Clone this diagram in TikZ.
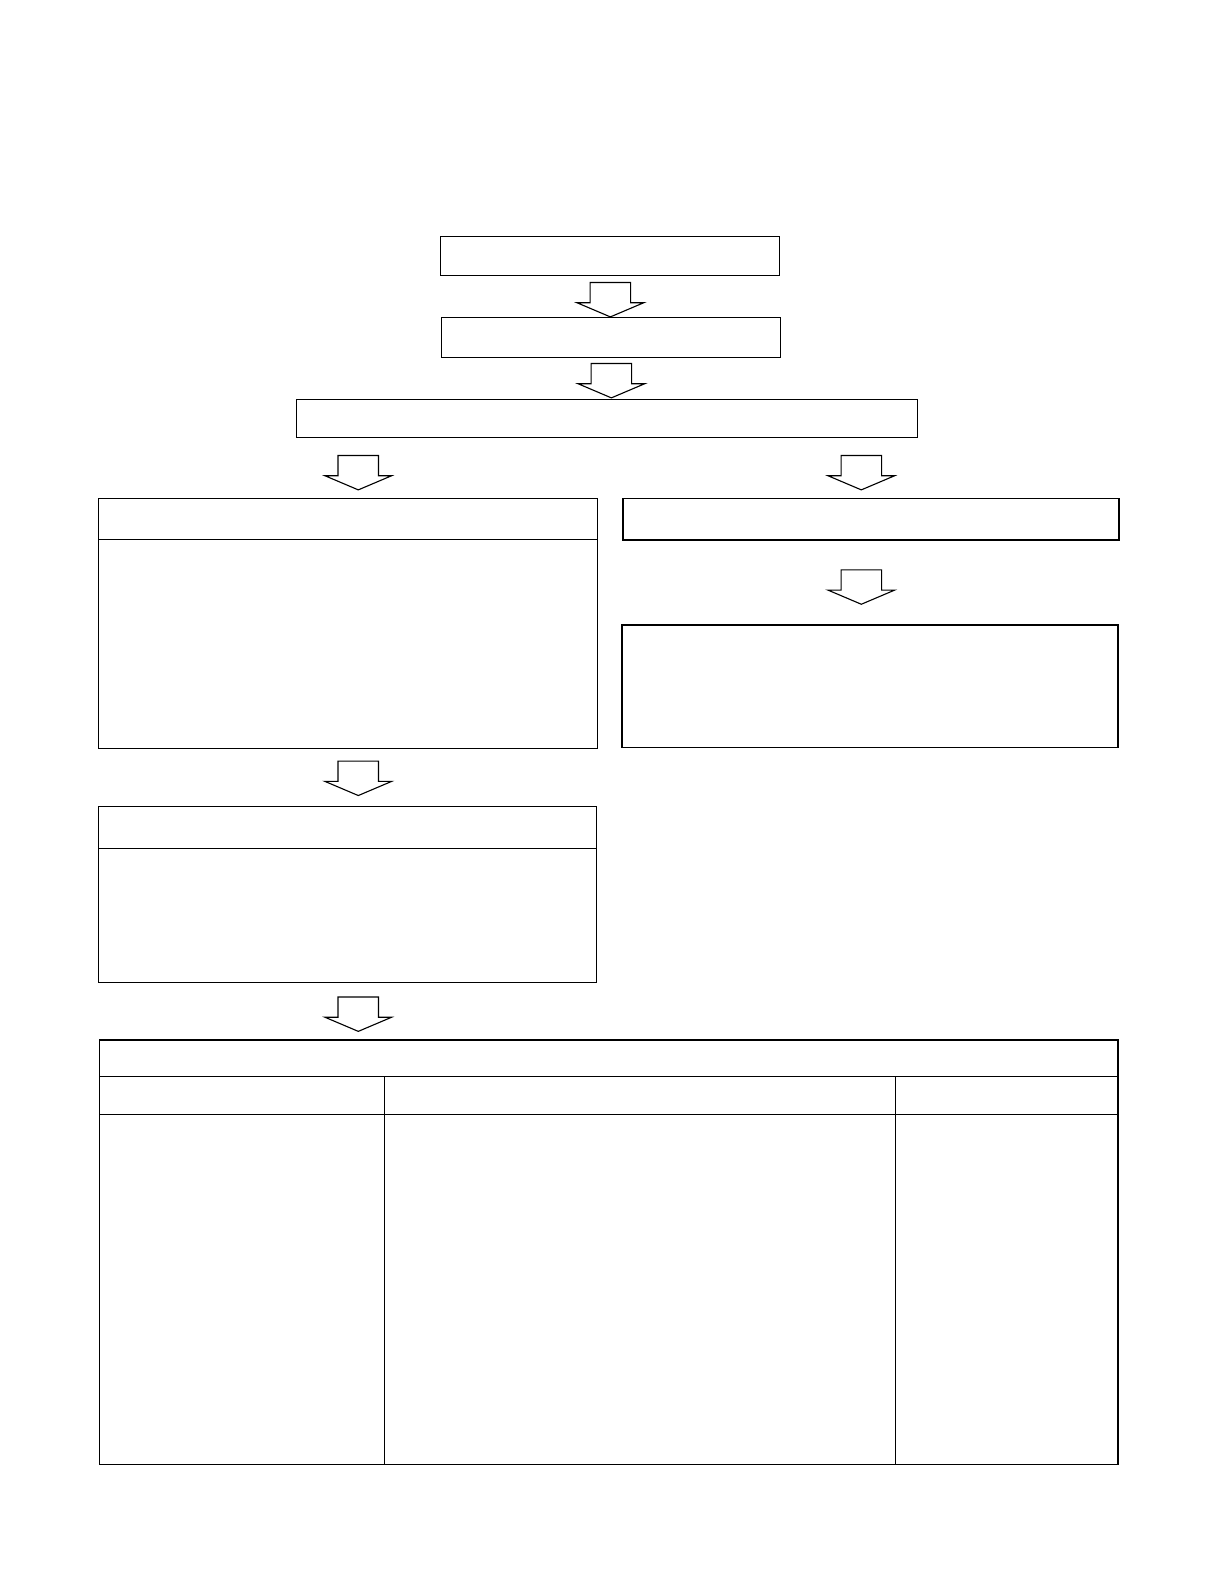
\documentclass[tikz,border=0pt]{standalone}
\usepackage{tikz}
\usetikzlibrary{positioning}

\tikzset{
  box/.style={draw, line width=1.1pt, inner sep=0pt, anchor=north west},
  blockarrow/.pic={
    \draw[line width=1.1pt] (-20,0) -- (20,0) -- (20,20) -- (33,20) -- (0,34) -- (-33,20) -- (-20,20) -- cycle;
  }
}

\begin{document}
\begin{tikzpicture}[x=1pt,y=-1pt]
\useasboundingbox (0,0) rectangle (1203.4,1567);
% top chain
\node[box, minimum width=335pt, minimum height=39pt] (start) at (435,233) {};
\node[box, minimum width=335pt, minimum height=40pt] (second) at (436,313) {};
\node[box, minimum width=614pt, minimum height=38pt] (split) at (292,394) {};
\pic at ([yshift=-6pt]start.south) {blockarrow};
\pic at ([yshift=-5pt]second.south) {blockarrow};
% left branch
\node[box, minimum width=493pt, minimum height=247pt] (lefttop) at (97,492) {};
\draw[line width=1.1pt] ([yshift=-41pt]lefttop.north west) -- ([yshift=-41pt]lefttop.north east);
\node[box, minimum width=492pt, minimum height=174pt] (leftlow) at (97,796) {};
\draw[line width=1.1pt] ([yshift=-42pt]leftlow.north west) -- ([yshift=-42pt]leftlow.north east);
\pic at (354,450) {blockarrow};
\pic at (354,752) {blockarrow};
% right branch
\node[box, minimum width=490pt, minimum height=41pt] (righttop) at (615,492) {};
\node[box, minimum width=490pt, minimum height=121pt] (rightlow) at (614,617) {};
\pic at (851,450) {blockarrow};
\pic at (851,563) {blockarrow};
% table
\pic at (354,985) {blockarrow};
\node[box, minimum width=1006pt, minimum height=419pt] (table) at (98,1027) {};
\draw[line width=1.1pt] ([yshift=-37pt]table.north west) -- ([yshift=-37pt]table.north east);
\draw[line width=1.1pt] ([yshift=-74pt]table.north west) -- ([yshift=-74pt]table.north east);
\draw[line width=1.1pt] ([xshift=282pt,yshift=-37pt]table.north west) -- ([xshift=282pt]table.south west);
\draw[line width=1.1pt] ([xshift=787pt,yshift=-37pt]table.north west) -- ([xshift=787pt]table.south west);
\end{tikzpicture}
\end{document}
